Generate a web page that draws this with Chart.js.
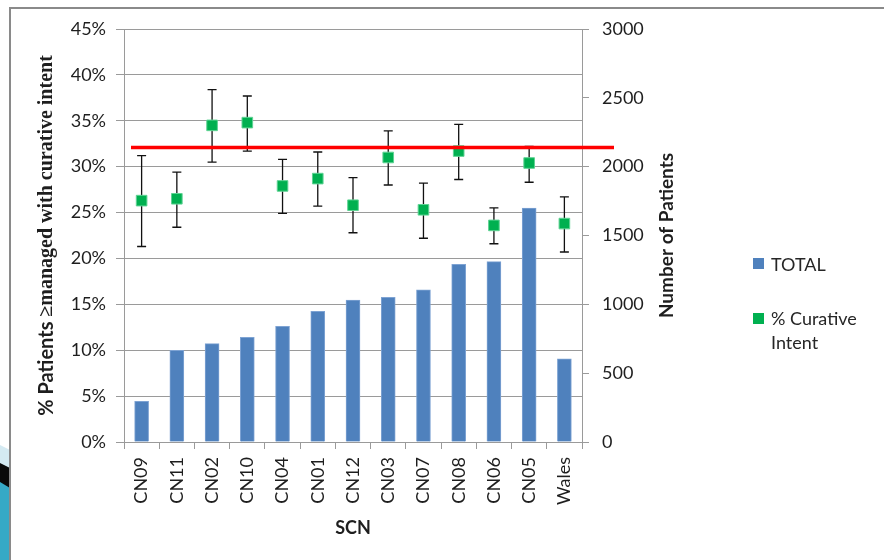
<!DOCTYPE html>
<html>
<head>
<meta charset="utf-8">
<script src="https://cdn.jsdelivr.net/npm/chart.js@4"></script>
<style>
  html, body { margin: 0; padding: 0; background: #fff; }
  #wrap { position: relative; width: 884px; height: 560px; overflow: hidden; }
  #frame { position: absolute; left: 9px; top: 7px; width: 900px; height: 600px;
           border-top: 2px solid #8a8a8a; border-left: 2px solid #8a8a8a; }
  #deco { position: absolute; left: 0; top: 430px; }
  #c { position: absolute; left: 0; top: 0; }
  .lg { position: absolute; left: 753px; font-family: Lato, sans-serif; font-size: 18px;
        color: #262626; line-height: 24px; }
  .lg i { position: absolute; left: 0; width: 11px; height: 11px; }
  .lg span { position: absolute; left: 18px; white-space: nowrap; }
</style>
</head>
<body>
<div id="wrap">
  <svg id="deco" width="10" height="130" viewBox="0 0 10 130">
    <polygon points="0,15 10,20 10,130 0,130" fill="#d4eaf2"/>
    <polygon points="0,33 10,38 10,130 0,130" fill="#0a0a0a"/>
    <polygon points="0,52 10,58 10,130 0,130" fill="#36a9c6"/>
  </svg>
  <div id="frame"></div>
  <canvas id="c" width="884" height="560"></canvas>
  <div class="lg" style="top:252px"><i style="top:6px;background:#4F81BD"></i><span>TOTAL</span></div>
  <div class="lg" style="top:306px"><i style="top:7px;background:#00B050"></i><span>% Curative<br>Intent</span></div>
</div>
<script>
// Strategic clinical network areas, ordered by patient volume
const categories = ['CN09', 'CN11', 'CN02', 'CN10', 'CN04', 'CN01', 'CN12', 'CN03', 'CN07', 'CN08', 'CN06', 'CN05', 'Wales'];
// Number of patients (right axis)
const totalPatients = [295, 665, 715, 760, 840, 950, 1030, 1050, 1105, 1290, 1310, 1700, 605];
// % managed with curative intent and 95% confidence limits (left axis)
const curativePct = [26.3, 26.5, 34.5, 34.8, 27.9, 28.7, 25.8, 31.0, 25.3, 31.7, 23.6, 30.4, 23.8];
const ciLower = [21.3, 23.4, 30.5, 31.7, 24.9, 25.7, 22.8, 28.0, 22.2, 28.6, 21.6, 28.3, 20.7];
const ciUpper = [31.2, 29.4, 38.4, 37.7, 30.8, 31.6, 28.8, 33.9, 28.2, 34.6, 25.5, 32.2, 26.7];
// Reference standard
const targetPct = 32.1;
// Axis ranges
const pctAxis = { min: 0, max: 45, step: 5 };
const countAxis = { min: 0, max: 3000, step: 500 };

const tickFont = { family: 'Lato', size: 18 };
const textColor = '#1e1e1e';
const gridColor = '#9a9a9a';

// Whiskers drawn beneath the square markers
const errorBars = {
  id: 'errorBars',
  beforeDatasetDraw(chart, args) {
    if (args.index !== 1) return;
    const { ctx } = chart;
    const x = chart.scales.x, y = chart.scales.y;
    ctx.save();
    ctx.strokeStyle = '#111';
    ctx.lineWidth = 1.3;
    categories.forEach((c, i) => {
      const px = x.getPixelForValue(i);
      const lo = y.getPixelForValue(ciLower[i]);
      const hi = y.getPixelForValue(ciUpper[i]);
      ctx.beginPath();
      ctx.moveTo(px, lo); ctx.lineTo(px, hi);
      ctx.moveTo(px - 4.5, lo); ctx.lineTo(px + 4.5, lo);
      ctx.moveTo(px - 4.5, hi); ctx.lineTo(px + 4.5, hi);
      ctx.stroke();
    });
    ctx.restore();
  }
};

// Standard line plus the axis titles
const overlay = {
  id: 'overlay',
  afterDatasetsDraw(chart) {
    const { ctx, chartArea: a } = chart;
    const y = chart.scales.y;
    const ty = y.getPixelForValue(targetPct);
    ctx.save();
    ctx.strokeStyle = '#FF0000';
    ctx.lineWidth = 3.5;
    ctx.beginPath();
    ctx.moveTo(a.left + 7, ty);
    ctx.lineTo(a.right + 32, ty);
    ctx.stroke();
    ctx.restore();
  },
  afterDraw(chart) {
    const { ctx, chartArea: a } = chart;
    const midY = (a.top + a.bottom) / 2;
    ctx.save();
    ctx.fillStyle = textColor;
    ctx.textBaseline = 'middle';
    // left title, mixed faces
    const p1 = '% Patients ', p2 = '\u2265managed with curative intent';
    const f1 = 'bold 20px Lato', f2 = 'bold 20px "Liberation Serif"';
    ctx.font = f1; const w1 = ctx.measureText(p1).width;
    ctx.font = f2; const w2 = ctx.measureText(p2).width;
    ctx.save();
    ctx.translate(47, midY);
    ctx.rotate(-Math.PI / 2);
    ctx.textAlign = 'left';
    ctx.font = f1; ctx.fillText(p1, -(w1 + w2) / 2, 0);
    ctx.font = f2; ctx.fillText(p2, -(w1 + w2) / 2 + w1, 0);
    ctx.restore();
    // right title
    ctx.save();
    ctx.translate(a.right + 85, midY);
    ctx.rotate(-Math.PI / 2);
    ctx.textAlign = 'center';
    ctx.font = 'bold 19px Lato';
    ctx.fillText('Number of Patients', 0, 0);
    ctx.restore();
    // category axis title
    ctx.textAlign = 'center';
    ctx.font = 'bold 18px Lato';
    ctx.fillText('SCN', (a.left + a.right) / 2, 528);
    ctx.restore();
  }
};

new Chart(document.getElementById('c'), {
  data: {
    labels: categories,
    datasets: [
      {
        type: 'bar', label: 'TOTAL', data: totalPatients, yAxisID: 'y2', order: 2,
        backgroundColor: '#4F81BD', borderColor: '#7EA3D3', borderWidth: 1,
        barThickness: 14
      },
      {
        type: 'line', label: '% Curative Intent', data: curativePct, yAxisID: 'y', order: 1,
        showLine: false, pointStyle: 'rect', pointRadius: 7.5,
        pointBackgroundColor: '#00B050', pointBorderColor: '#5fd394', pointBorderWidth: 1
      }
    ]
  },
  options: {
    responsive: false,
    animation: false,
    events: [],
    layout: { padding: { top: 29, left: 0, right: 0, bottom: 0 } },
    plugins: { legend: { display: false }, tooltip: { enabled: false } },
    scales: {
      x: {
        offset: true,
        grid: { offset: true, drawOnChartArea: false, color: gridColor, tickLength: 7 },
        border: { color: gridColor },
        ticks: { font: tickFont, color: textColor, minRotation: 90, maxRotation: 90, autoSkip: false, padding: 8 },
        afterFit(s) { s.height = 118; }
      },
      y: {
        position: 'left', min: pctAxis.min, max: pctAxis.max,
        grid: { color: gridColor, tickLength: 8 },
        border: { color: gridColor },
        ticks: { stepSize: pctAxis.step, font: tickFont, color: textColor, padding: 10,
                 callback: v => v + '%' },
        afterFit(s) { s.width = 124; }
      },
      y2: {
        position: 'right', min: countAxis.min, max: countAxis.max,
        grid: { drawOnChartArea: false, color: gridColor, tickLength: 7 },
        border: { color: gridColor },
        ticks: { stepSize: countAxis.step, font: tickFont, color: textColor, padding: 13,
                 callback: v => String(v) },
        afterFit(s) { s.width = 302; }
      }
    }
  },
  plugins: [errorBars, overlay]
});
</script>
</body>
</html>
